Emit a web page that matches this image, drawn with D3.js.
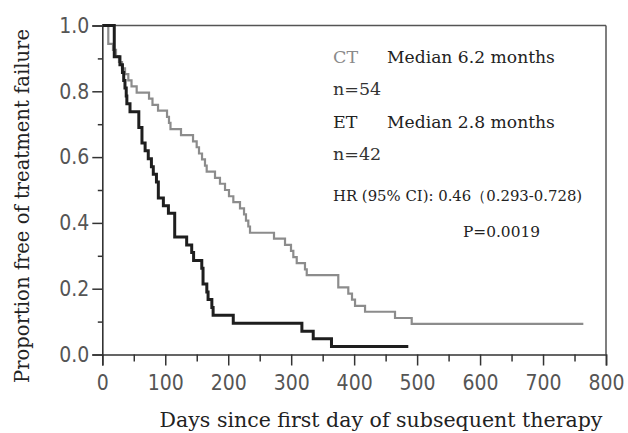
<!DOCTYPE html>
<html>
<head>
<meta charset="utf-8">
<script src="https://cdn.jsdelivr.net/npm/d3@7/dist/d3.min.js"></script>
<style>
  html, body { margin: 0; padding: 0; background: #fff; }
  svg { display: block; }
</style>
</head>
<body>
<svg id="chart" width="628" height="433"></svg>
<script>
// ---- Data ----
const xTicks = [0, 100, 200, 300, 400, 500, 600, 700, 800];
const yTicks = [0.0, 0.2, 0.4, 0.6, 0.8, 1.0];

// CT group (n=54): event days and survival after each event
const ctDays = [9.5, 17, 21.8, 26.5, 31.3, 36.1, 41.3, 46.4, 54.6, 74.2, 79.7, 88.5, 102.8, 105.9, 108.3, 125,
  144.1, 149.9, 153.6, 158.4, 163.1, 165.8, 179, 186.9, 194.9, 201.2, 208.1, 218.7, 225.1, 228.2, 231.9, 234.6,
  272.7, 290.2, 299.7, 303.4, 308.8, 321.9, 324.7, 374.8, 390.7, 396.6, 401.4, 417.3, 464.9, 491.4];
const ctSurv = [0.944, 0.926, 0.907, 0.889, 0.870, 0.852, 0.833, 0.815, 0.796, 0.778, 0.759, 0.741, 0.722, 0.704, 0.685, 0.667,
  0.648, 0.630, 0.611, 0.593, 0.574, 0.556, 0.537, 0.519, 0.500, 0.481, 0.463, 0.444, 0.426, 0.407, 0.389, 0.370,
  0.352, 0.333, 0.315, 0.296, 0.278, 0.259, 0.241, 0.204, 0.185, 0.167, 0.148, 0.130, 0.111, 0.093];
const ctLastDay = 764;

// ET group (n=42)
const etDays = [19, 28, 32, 34, 36, 38, 39, 44, 58, 63, 68, 73, 78, 81, 86, 89, 97, 105, 115, 134, 142, 145,
  158, 160, 166, 168, 174, 176, 208, 317, 335, 364];
const etSurv = [0.905, 0.881, 0.857, 0.833, 0.810, 0.786, 0.762, 0.738, 0.690, 0.643, 0.619, 0.595, 0.571, 0.548,
  0.524, 0.476, 0.452, 0.429, 0.357, 0.333, 0.310, 0.286, 0.262, 0.214, 0.190, 0.167, 0.143, 0.119, 0.095, 0.071, 0.048, 0.024];
const etLastDay = 486;

const legendLines = [
  { a: "CT", b: "Median 6.2 months", colA: "#8a8a8a" },
  { a: "n=54", b: "", colA: "#333" },
  { a: "ET", b: "Median 2.8 months", colA: "#222" },
  { a: "n=42", b: "", colA: "#333" }
];
const hrText = "HR (95% CI): 0.46\uFF080.293-0.728)";
const pText = "P=0.0019";
const xTitle = "Days since first day of subsequent therapy";
const yTitle = "Proportion free of treatment failure";

// ---- Layout ----
const svg = d3.select("#chart");
const x = d3.scaleLinear().domain([0, 800]).range([102.3, 606]);
const y = d3.scaleLinear().domain([0, 1]).range([354.5, 25.5]);

const sans = "'DejaVu Sans Condensed', 'DejaVu Sans', sans-serif";
const serif = "'DejaVu Serif', 'Liberation Serif', serif";

function fitWidth(sel, target) {
  const node = sel.node();
  const fs = parseFloat(sel.attr("font-size"));
  const w = node.getComputedTextLength();
  if (w > 0) sel.attr("font-size", (fs * target / w).toFixed(2));
}

// frame (top & right)
svg.append("line").attr("x1", x(0)).attr("x2", x(800)).attr("y1", y(1)).attr("y2", y(1))
  .attr("stroke", "#555").attr("stroke-width", 1.5);
svg.append("line").attr("x1", x(800)).attr("x2", x(800)).attr("y1", y(1)).attr("y2", y(0))
  .attr("stroke", "#555").attr("stroke-width", 1.5);

// x axis
const xAxisG = svg.append("g").attr("transform", `translate(0,${y(0)})`)
  .call(d3.axisBottom(x).tickValues(xTicks).tickFormat(d3.format("d")).tickSize(11).tickPadding(10));
const xMinor = svg.append("g").attr("transform", `translate(0,${y(0)})`)
  .call(d3.axisBottom(x).tickValues(d3.range(50, 800, 100)).tickFormat("").tickSize(7));
xMinor.select(".domain").remove();

// y axis
const yAxisG = svg.append("g").attr("transform", `translate(${x(0)},0)`)
  .call(d3.axisLeft(y).tickValues(yTicks).tickFormat(d3.format(".1f")).tickSize(10).tickPadding(3));
const yMinor = svg.append("g").attr("transform", `translate(${x(0)},0)`)
  .call(d3.axisLeft(y).tickValues([0.1, 0.3, 0.5, 0.7, 0.9]).tickFormat("").tickSize(4.5));
yMinor.select(".domain").remove();

svg.selectAll(".domain").attr("stroke", "#333").attr("stroke-width", 1.6);
svg.selectAll(".tick line").attr("stroke", "#333").attr("stroke-width", 1.5);
svg.selectAll(".tick text").attr("font-family", sans).attr("font-size", 21).attr("fill", "#555");
xAxisG.selectAll(".tick text").attr("dy", "0.71em");

// curves
function kmPoints(days, surv, last) {
  const pts = [[0, 1]];
  days.forEach((d, i) => pts.push([d, surv[i]]));
  pts.push([last, surv[surv.length - 1]]);
  return pts;
}
const line = d3.line().x(d => x(d[0])).y(d => y(d[1])).curve(d3.curveStepAfter);

svg.append("path").datum(kmPoints(ctDays, ctSurv, ctLastDay))
  .attr("d", line).attr("fill", "none").attr("stroke", "#8c8c8c").attr("stroke-width", 2.2);
svg.append("path").datum(kmPoints(etDays, etSurv, etLastDay))
  .attr("d", line).attr("fill", "none").attr("stroke", "#1e1e1e").attr("stroke-width", 3);

// legend text
const legY = [63.3, 95, 127.7, 160];
legendLines.forEach((l, i) => {
  const t = svg.append("text").attr("x", 333).attr("y", legY[i]).attr("font-family", serif)
    .attr("font-size", 17.5).attr("fill", l.colA).text(l.a);
  if (l.b) {
    const tb = svg.append("text").attr("x", 387).attr("y", legY[i]).attr("font-family", serif)
      .attr("font-size", 17.5).attr("fill", "#222").text(l.b);
    fitWidth(tb, 168);
  }
});
const hr = svg.append("text").attr("x", 333).attr("y", 200.5).attr("font-family", serif)
  .attr("font-size", 14).attr("fill", "#222").text(hrText);
fitWidth(hr, 249);
const pv = svg.append("text").attr("x", 463).attr("y", 236.5).attr("font-family", serif)
  .attr("font-size", 16).attr("fill", "#222").text(pText);
fitWidth(pv, 77);

// axis titles
const xt = svg.append("text").attr("x", 381).attr("y", 427).attr("text-anchor", "middle")
  .attr("font-family", serif).attr("font-size", 18).attr("fill", "#222").text(xTitle);
fitWidth(xt, 443);
const yt = svg.append("text").attr("transform", "translate(29,206) rotate(-90)").attr("text-anchor", "middle")
  .attr("font-family", serif).attr("font-size", 18).attr("fill", "#222").text(yTitle);
fitWidth(yt, 354);
</script>
</body>
</html>
